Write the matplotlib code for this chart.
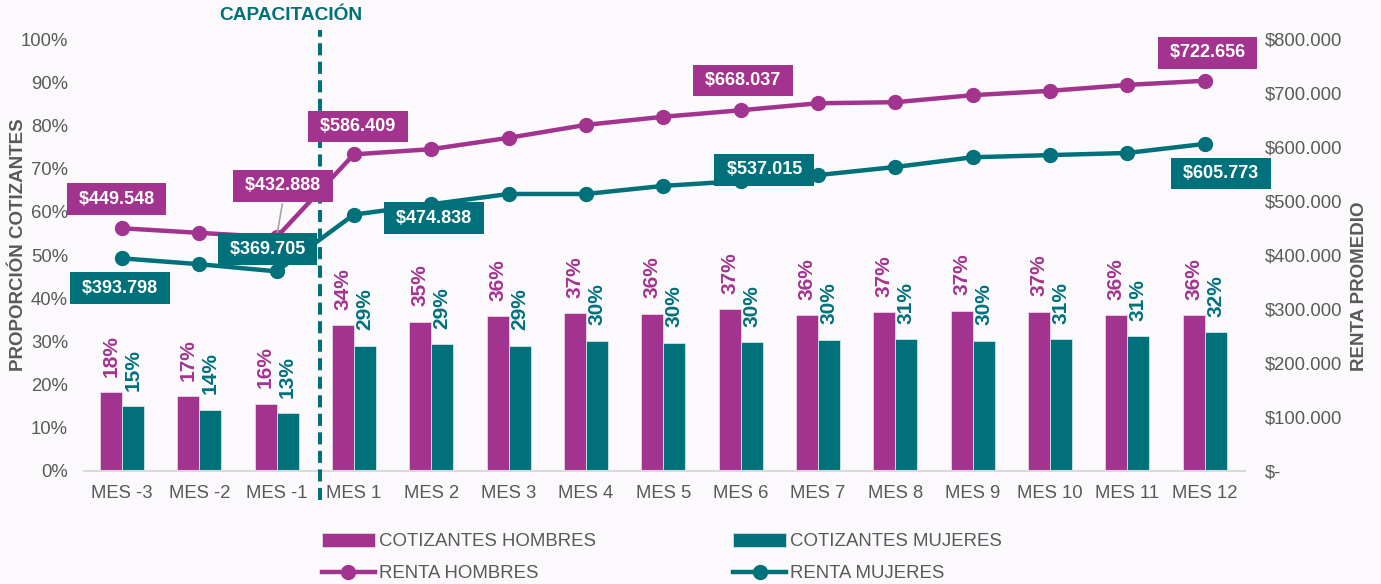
import numpy as np
import matplotlib.pyplot as plt
from matplotlib.ticker import FuncFormatter

plt.rcParams['font.family'] = ['Liberation Sans', 'DejaVu Sans']

meses = ['MES -3', 'MES -2', 'MES -1', 'MES 1', 'MES 2', 'MES 3', 'MES 4', 'MES 5',
         'MES 6', 'MES 7', 'MES 8', 'MES 9', 'MES 10', 'MES 11', 'MES 12']
cot_hombres = [18.3, 17.4, 15.6, 33.7, 34.6, 35.9, 36.6, 36.4, 37.4, 36.1, 36.7, 37.1, 36.9, 36.0, 36.0]
cot_mujeres = [15.0, 14.2, 13.4, 29.0, 29.3, 29.0, 30.2, 29.7, 29.8, 30.4, 30.6, 30.2, 30.6, 31.3, 32.2]
renta_hombres = [449548, 441000, 432888, 586409, 596000, 617000, 641000, 656000,
                 668037, 681000, 683000, 696000, 704000, 715000, 722656]
renta_mujeres = [393798, 383000, 369705, 474838, 494000, 513000, 513000, 528000,
                 537015, 548000, 563000, 581000, 585000, 589000, 605773]

MAG = '#a2348f'
TEAL = '#00717b'
GRIS = '#595959'
FONDO = '#fbf9fc'

fig = plt.figure(figsize=(13.81, 5.84), dpi=100, facecolor=FONDO)
ax = fig.add_axes([0.0608, 0.1935, 0.8407, 0.7397])
ax.set_facecolor(FONDO)
x = np.arange(len(meses))
w = 0.284

bh = ax.bar(x - w / 2, cot_hombres, w, color=MAG, edgecolor='#e8d6e4', linewidth=0.6,
            label='COTIZANTES HOMBRES', zorder=2)
bm = ax.bar(x + w / 2, cot_mujeres, w, color=TEAL, edgecolor='#d0e4e6', linewidth=0.6,
            label='COTIZANTES MUJERES', zorder=2)

for xi, v in zip(x, cot_hombres):
    ax.annotate('%d%%' % int(v + 0.5), (xi - w / 2, v), xytext=(0, 11), textcoords='offset points',
                rotation=90, ha='center', va='bottom', color=MAG, fontsize=15, fontweight='bold')
for xi, v in zip(x, cot_mujeres):
    ax.annotate('%d%%' % int(v + 0.5), (xi + w / 2, v), xytext=(0, 11), textcoords='offset points',
                rotation=90, ha='center', va='bottom', color=TEAL, fontsize=15, fontweight='bold')

ax.set_ylim(0, 100)
ax.set_xlim(-0.49, 14.52)
ax.set_yticks(np.arange(0, 101, 10))
ax.yaxis.set_major_formatter(FuncFormatter(lambda v, p: '%d%%' % v))
ax.set_xticks(x)
ax.set_xticklabels(meses)
ax.tick_params(axis='both', length=0, labelsize=13.3, colors=GRIS)
ax.tick_params(axis='x', pad=10)
ax.tick_params(axis='y', pad=11.5)
for s in ['top', 'right', 'left']:
    ax.spines[s].set_visible(False)
ax.spines['bottom'].set_color('#d9d9d9')
ax.spines['bottom'].set_linewidth(1.5)
ax.set_ylabel('PROPORCIÓN COTIZANTES', fontsize=13.5, fontweight='bold', color=GRIS)
ax.yaxis.set_label_coords(-0.049, 0.525)

ax2 = ax.twinx()
ax2.set_ylim(0, 800000)
ax2.set_yticks(np.arange(0, 800001, 100000))
ax2.yaxis.set_major_formatter(FuncFormatter(
    lambda v, p: '$-' if v == 0 else '$' + format(int(v), ',').replace(',', '.')))
ax2.tick_params(axis='y', length=0, labelsize=13.3, colors=GRIS, pad=14)
for s in ['top', 'right', 'left', 'bottom']:
    ax2.spines[s].set_visible(False)
ax2.set_ylabel('RENTA PROMEDIO', fontsize=13.5, fontweight='bold', color=GRIS)
ax2.yaxis.set_label_coords(1.091, 0.428)

lh, = ax2.plot(x, renta_hombres, color=MAG, lw=3.2, marker='o', ms=10, label='RENTA HOMBRES', zorder=3)
lm, = ax2.plot(x, renta_mujeres, color=TEAL, lw=3.2, marker='o', ms=10, label='RENTA MUJERES', zorder=3)

# etiquetas de renta (indice, desplazamiento en puntos)
etiq_h = {0: (-4, 21), 2: (4.5, 37), 3: (3, 20), 8: (1.5, 21.5), 14: (2, 20)}
etiq_m = {0: (-1.5, -21.5), 2: (-6.5, 16), 3: (57.5, -2.5), 8: (17, 8), 14: (11.5, -21.5)}
for serie, etiq, col in [(renta_hombres, etiq_h, MAG), (renta_mujeres, etiq_m, TEAL)]:
    for i, (dx, dy) in etiq.items():
        txt = ' $' + format(serie[i], ',').replace(',', '.') + ' '
        ax2.annotate(txt, (x[i], serie[i]), xytext=(dx, dy), textcoords='offset points',
                     ha='center', va='center', color='white', fontsize=13, fontweight='bold',
                     bbox=dict(boxstyle='square,pad=0.4', fc=col, ec='none'), zorder=5)

# linea guia de la etiqueta MES -1 hombres
ax2.annotate('', (x[2], renta_hombres[2]), xytext=(4.5, 26), textcoords='offset points',
             arrowprops=dict(arrowstyle='-', color='#a6a6a6', lw=1.2), zorder=4)

# linea de capacitacion
ax.plot([2.56, 2.56], [-0.067, 1.021], transform=ax.get_xaxis_transform(), color=TEAL,
        lw=2.9, ls=(0, (3, 1.6)), clip_on=False, zorder=6)
fig.text(291 / 1381, 1 - 16 / 584, 'CAPACITACIÓN', ha='center', va='center',
         color=TEAL, fontsize=13.8, fontweight='bold')

fig.legend([bh, lh, bm, lm], ['COTIZANTES HOMBRES', 'RENTA HOMBRES', 'COTIZANTES MUJERES', 'RENTA MUJERES'],
           ncol=2, loc='lower left', bbox_to_anchor=(0.221, -0.026), frameon=False, fontsize=13.4,
           labelcolor=GRIS, handlelength=2.85, handletextpad=0.2, columnspacing=7.4,
           labelspacing=0.8, handleheight=0.75)

fig.savefig('out.png', dpi=100, facecolor=FONDO)
